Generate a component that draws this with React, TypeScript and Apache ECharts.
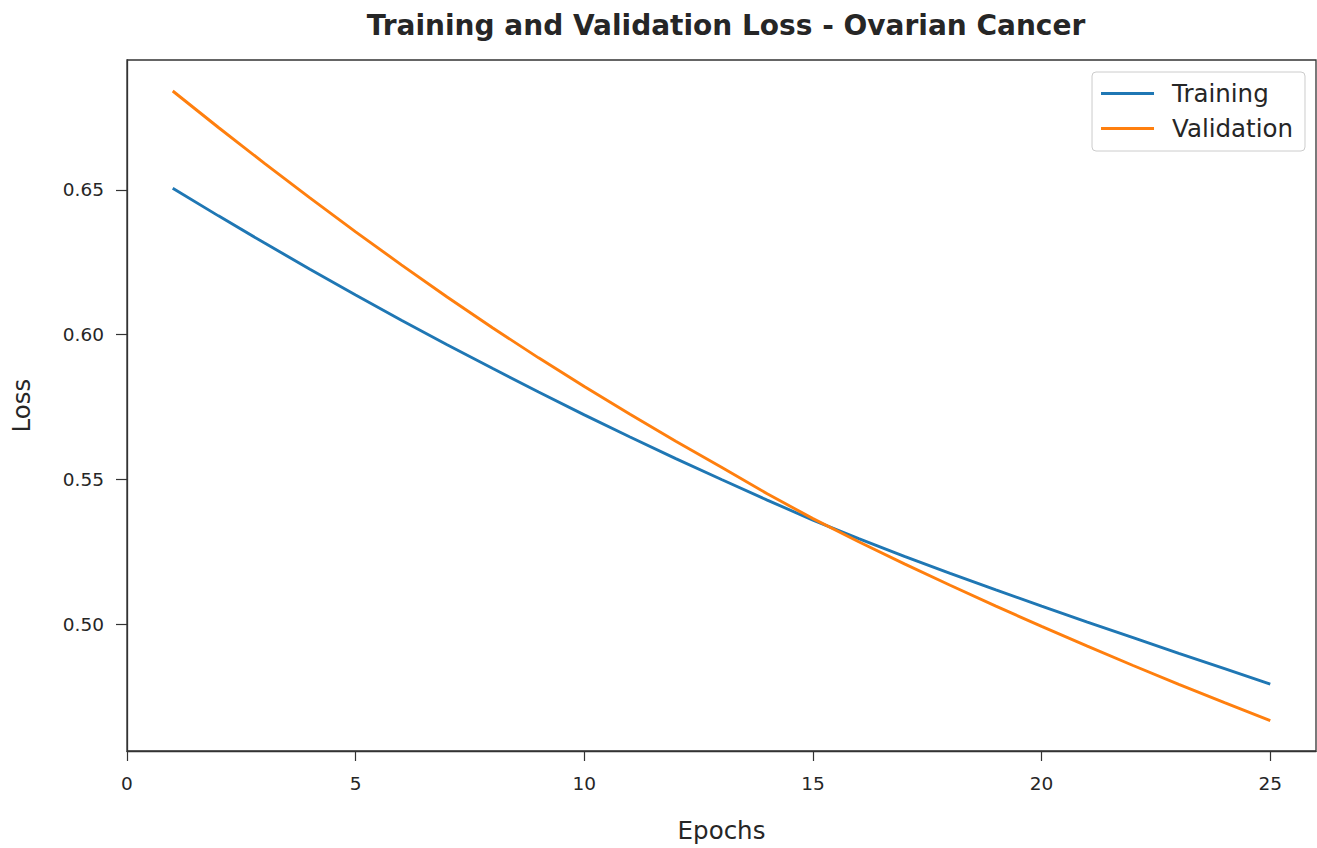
import React, { useEffect, useRef } from "react";
import * as echarts from "echarts";

const epochs = [1, 2, 3, 4, 5, 6, 7, 8, 9, 10, 11, 12, 13, 14, 15, 16, 17, 18, 19, 20, 21, 22, 23, 24, 25];
const trainingLoss = [
  0.6505, 0.641, 0.6317, 0.6226, 0.6137, 0.605, 0.5965, 0.5883, 0.5802, 0.5723,
  0.5647, 0.5572, 0.55, 0.5429, 0.536, 0.5296, 0.5235, 0.5176, 0.5119, 0.5063,
  0.5008, 0.4954, 0.49, 0.4847, 0.4794,
];
const validationLoss = [
  0.6841, 0.6715, 0.6592, 0.6472, 0.6355, 0.6241, 0.613, 0.6023, 0.592, 0.5821,
  0.5725, 0.5632, 0.5542, 0.5451, 0.5365, 0.5285, 0.5209, 0.5135, 0.5063, 0.4993,
  0.4925, 0.4858, 0.4793, 0.473, 0.4668,
];
const xTicks = [0, 5, 10, 15, 20, 25];
const yTicks = [0.5, 0.55, 0.6, 0.65];
const seriesNames = ["Training", "Validation"];

const FONT = "DejaVu Sans";
const TEXT = "#262626";
const SPINE = "#333333";

export default function App() {
  const ref = useRef<HTMLDivElement>(null);
  useEffect(() => {
    if (!ref.current) return;
    const chart = echarts.init(ref.current, undefined, { renderer: "svg" });
    const toPairs = (vals: number[]) => epochs.map((e, i) => [e, vals[i]]);
    chart.setOption({
      animation: false,
      backgroundColor: "#ffffff",
      textStyle: { fontFamily: FONT, color: TEXT },
      title: {
        text: "Training and Validation Loss - Ovarian Cancer",
        left: 721,
        textAlign: "center",
        top: 6,
        textStyle: { fontFamily: FONT, fontSize: 28, fontWeight: "bold", color: TEXT },
      },
      grid: {
        left: 127,
        top: 60,
        right: 1,
        bottom: 93,
        show: true,
        borderColor: SPINE,
        borderWidth: 1.3,
        backgroundColor: "transparent",
      },
      legend: {
        orient: "vertical",
        right: 12,
        top: 72,
        icon: "rect",
        itemWidth: 53,
        itemHeight: 3,
        itemGap: 10,
        padding: [9, 12, 10, 9],
        borderColor: "#cccccc",
        borderWidth: 1,
        borderRadius: 4,
        backgroundColor: "rgba(255,255,255,0.8)",
        textStyle: {
          fontFamily: FONT,
          fontSize: 24.5,
          color: TEXT,
          lineHeight: 25,
          padding: [0, 0, 0, 13],
        },
        data: seriesNames,
      },
      xAxis: {
        type: "value",
        min: 0,
        max: 26,
        interval: 5,
        name: "Epochs",
        nameLocation: "middle",
        nameGap: 67,
        nameTextStyle: { fontFamily: FONT, fontSize: 24.5, color: TEXT },
        axisLine: { show: true, lineStyle: { color: SPINE, width: 1.3 } },
        axisTick: {
          show: true,
          inside: false,
          length: 10,
          lineStyle: { color: SPINE, width: 1.2 },
          customValues: xTicks,
        },
        axisLabel: {
          fontFamily: FONT,
          fontSize: 18.5,
          color: TEXT,
          margin: 23,
          customValues: xTicks,
          formatter: (v: number) => String(v),
        },
        splitLine: { show: false },
      },
      yAxis: {
        type: "value",
        min: 0.4563,
        max: 0.6948,
        name: "Loss",
        nameLocation: "middle",
        nameGap: 93,
        nameTextStyle: { fontFamily: FONT, fontSize: 24.5, color: TEXT },
        axisLine: { show: true, lineStyle: { color: SPINE, width: 1.3 } },
        axisTick: {
          show: true,
          inside: false,
          length: 11,
          lineStyle: { color: SPINE, width: 1.2 },
          customValues: yTicks,
        },
        axisLabel: {
          fontFamily: FONT,
          fontSize: 18.5,
          color: TEXT,
          margin: 23,
          customValues: yTicks,
          formatter: (v: number) => v.toFixed(2),
        },
        splitLine: { show: false },
      },
      series: [
        {
          name: seriesNames[0],
          type: "line",
          data: toPairs(trainingLoss),
          symbol: "none",
          smooth: false,
          lineStyle: { color: "#1f77b4", width: 2.9 },
          itemStyle: { color: "#1f77b4" },
        },
        {
          name: seriesNames[1],
          type: "line",
          data: toPairs(validationLoss),
          symbol: "none",
          smooth: false,
          lineStyle: { color: "#ff7f0e", width: 2.9 },
          itemStyle: { color: "#ff7f0e" },
        },
      ],
    });
    return () => chart.dispose();
  }, []);
  return (
    <div
      ref={ref}
      style={{ position: "fixed", left: 0, top: 0, width: 1317, height: 848, background: "#fff" }}
    />
  );
}
